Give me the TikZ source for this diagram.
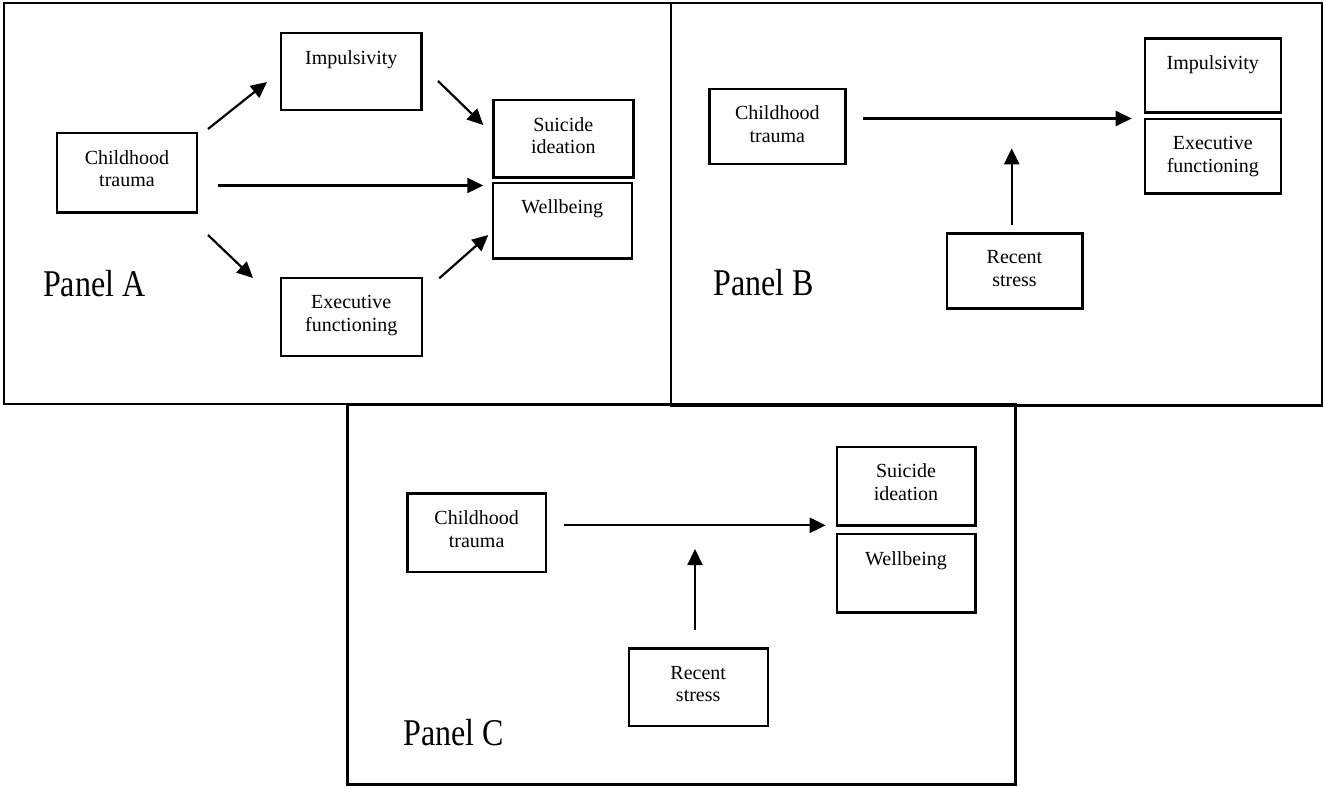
\documentclass[tikz,border=0pt]{standalone}
\usepackage{graphicx}
\usepackage{fontspec}
\setmainfont{Liberation Serif}
\usetikzlibrary{arrows.meta}
\begin{document}
\begin{tikzpicture}[x=0.5pt,y=-0.5pt,
  frame/.style={draw=black, line width=1.1pt},
  box/.style 2 args={draw=black, line width=1.2pt, inner sep=0pt, outer sep=0pt,
    minimum width=#1*0.5pt, minimum height=#2*0.5pt, anchor=north west},
  txt/.style={anchor=north, inner sep=0pt, align=center,
    font=\fontsize{10}{11.4}\selectfont},
  lab/.style={anchor=base west, inner sep=0pt, font=\fontsize{16}{19}\selectfont},
  arr/.style={draw=black, line width=1.1pt, -{Triangle[length=8pt,width=7.5pt]}}]
\useasboundingbox (0,0) rectangle (1324,787);
\fill[white] (0,0) rectangle (1324,787);

% panel frames
\draw[frame] (4,3) rectangle (670.7,404);
\draw[frame] (670.7,3) rectangle (1321.7,405.5);
\draw[frame] (347.5,404.5) rectangle (1015.5,784.5);

% ---------- Panel A ----------
\node[box={140}{79.5}] (aCT) at (57,133) {};
\node[box={140.5}{77}] (aImp) at (281,33) {};
\node[box={140}{77.3}] (aSI) at (493.3,100) {};
\node[box={139}{75.6}] (aWB) at (492.7,182.7) {};
\node[box={141}{78}] (aEF) at (280.7,278) {};
\node[txt] (aCTt) at ([yshift=-8.45pt]aCT.north) {Childhood\\trauma};
\node[txt] (aImpt) at ([yshift=-8.45pt]aImp.north) {Impulsivity};
\node[txt] (aSIt) at ([yshift=-8.45pt]aSI.north) {Suicide\\ideation};
\node[txt] (aWBt) at ([yshift=-8.45pt]aWB.north) {Wellbeing};
\node[txt] (aEFt) at ([yshift=-8.6pt]aEF.north) {Executive\\functioning};
\node[lab] (aLab) at (42.7,296) {\scalebox{1}[1.18]{Panel A}};

\coordinate (a1s) at (208,129);   \coordinate (a1e) at (267,82);
\coordinate (a2s) at (438,81);    \coordinate (a2e) at (483.3,125);
\coordinate (a3s) at (217.7,185.5); \coordinate (a3e) at (483.3,185.5);
\coordinate (a4s) at (208,235);   \coordinate (a4e) at (253,278);
\coordinate (a5s) at (439.3,278.3); \coordinate (a5e) at (488.3,235);
\draw[arr] (a1s) -- (a1e);
\draw[arr] (a2s) -- (a2e);
\draw[arr] (a3s) -- (a3e);
\draw[arr] (a4s) -- (a4e);
\draw[arr] (a5s) -- (a5e);

% ---------- Panel B ----------
\node[box={136}{75}] (bCT) at (709.3,88.7) {};
\node[box={136.3}{74}] (bImp) at (1144.7,38.3) {};
\node[box={136.3}{74.6}] (bEF) at (1144.7,118.7) {};
\node[box={135.6}{75}] (bRS) at (946.7,233.3) {};
\node[txt] (bCTt) at ([yshift=-8.45pt]bCT.north) {Childhood\\trauma};
\node[txt] (bImpt) at ([yshift=-8.45pt]bImp.north) {Impulsivity};
\node[txt] (bEFt) at ([yshift=-8.6pt]bEF.north) {Executive\\functioning};
\node[txt] (bRSt) at ([yshift=-8.6pt]bRS.north) {Recent\\stress};
\node[lab] (bLab) at (713,295) {\scalebox{1}[1.18]{Panel B}};

\coordinate (b1s) at (862.7,118.5); \coordinate (b1e) at (1131.7,118.5);
\coordinate (b2s) at (1011.7,225.3); \coordinate (b2e) at (1011.7,148.3);
\draw[arr] (b1s) -- (b1e);
\draw[arr] (b2s) -- (b2e);

% ---------- Panel C ----------
\node[box={138.7}{78.7}] (cCT) at (407.3,493.3) {};
\node[box={138.6}{78.6}] (cSI) at (836.7,446.7) {};
\node[box={138.6}{78.3}] (cWB) at (836.7,534) {};
\node[box={139}{77.7}] (cRS) at (628.7,648.3) {};
\node[txt] (cCTt) at ([yshift=-8.45pt]cCT.north) {Childhood\\trauma};
\node[txt] (cSIt) at ([yshift=-8.45pt]cSI.north) {Suicide\\ideation};
\node[txt] (cWBt) at ([yshift=-8.45pt]cWB.north) {Wellbeing};
\node[txt] (cRSt) at ([yshift=-8.6pt]cRS.north) {Recent\\stress};
\node[lab] (cLab) at (403,745) {\scalebox{1}[1.18]{Panel C}};

\coordinate (c1s) at (564,525.3); \coordinate (c1e) at (825.7,525.3);
\coordinate (c2s) at (695,630);   \coordinate (c2e) at (695,549);
\draw[arr] (c1s) -- (c1e);
\draw[arr] (c2s) -- (c2e);
\end{tikzpicture}
\end{document}
